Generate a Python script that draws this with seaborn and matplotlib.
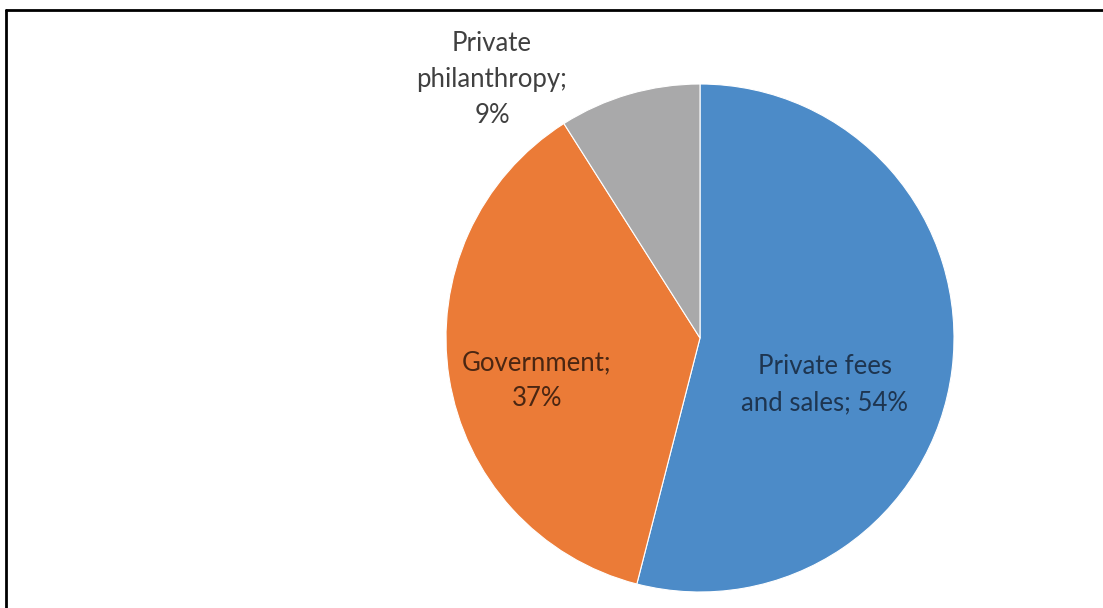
import matplotlib.pyplot as plt
import seaborn as sns
from matplotlib.lines import Line2D

# dados do grafico
categorias = ['Private fees\nand sales', 'Government', 'Private\nphilanthropy']
valores = [54, 37, 9]
cores = ['#4C8BC8', '#EB7B37', '#A9A9AA']

# posicoes dos rotulos (em raios a partir do centro), como no original
pos_rotulos = [(0.492, -0.185), (-0.642, -0.169), (-0.819, 1.016)]
cor_texto = ['#1E3550', '#4A2612', '#404040']


def main():
    sns.set_theme(style="white")
    plt.rcParams['font.family'] = ['Lato', 'DejaVu Sans']

    fig = plt.figure(figsize=(11.03, 6.08), dpi=100)
    ax = fig.add_axes([0, 0, 1, 1])

    wedges, textos = ax.pie(
        valores,
        colors=sns.color_palette(cores),
        startangle=90,
        counterclock=False,
        labels=[f"{c}; {v}%" for c, v in zip(categorias, valores)],
        labeldistance=0.5,
        wedgeprops={'linewidth': 0.8, 'edgecolor': 'white'},
        textprops={'fontsize': 18.5, 'ha': 'center', 'va': 'center', 'linespacing': 1.55},
    )

    # rotulos no estilo do Excel
    rotulos = ['Private fees\nand sales; 54%', 'Government;\n37%', 'Private\nphilanthropy;\n9%']
    for t, txt, pos, cor in zip(textos, rotulos, pos_rotulos, cor_texto):
        t.set_text(txt)
        t.set_position(pos)
        t.set_color(cor)
        t.set_horizontalalignment('center')

    # centro do grafico em (700, 338) px, raio 254 px
    r = 254.0
    ax.set_aspect('auto')
    ax.set_xlim(-700 / r, (1103 - 700) / r)
    ax.set_ylim(-(608 - 338) / r, 338 / r)
    ax.axis('off')

    # moldura (apenas topo e esquerda visiveis no recorte)
    fig.add_artist(Line2D([6 / 1103, 1], [1 - 10 / 608, 1 - 10 / 608],
                          transform=fig.transFigure, color='black', linewidth=2))
    fig.add_artist(Line2D([6 / 1103, 6 / 1103], [0, 1 - 10 / 608],
                          transform=fig.transFigure, color='black', linewidth=2))

    fig.savefig('out.png', dpi=100)
    plt.close(fig)


if __name__ == '__main__':
    main()
